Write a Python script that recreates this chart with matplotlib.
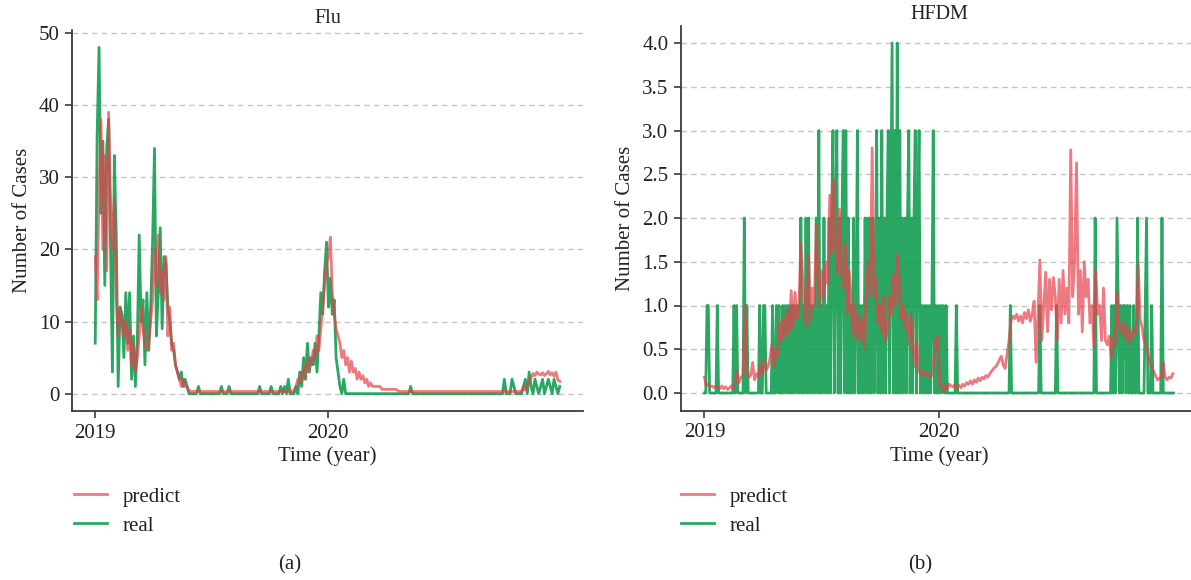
import numpy as np
import matplotlib
matplotlib.use("Agg")
import matplotlib.pyplot as plt
import matplotlib.dates as mdates
import matplotlib.ticker as mticker

plt.rcParams['font.family'] = ['Liberation Serif', 'DejaVu Serif']

# ---------------------------------------------------------------- data
# Flu: one value every 3 days starting 2019-01-01
flu_real = [
    7, 36, 48, 25, 35, 15, 34, 38, 20, 3,
    33, 22, 1, 12, 11, 5, 14, 7, 14, 2,
    8, 1, 7, 22, 10, 13, 4, 14, 6, 12,
    21, 34, 8, 14, 23, 9, 19, 18, 12, 10,
    7, 6, 4, 3, 2, 3, 1, 2, 1, 0,
    0, 0, 0, 0, 1, 0, 0, 0, 0, 0,
    0, 0, 0, 0, 0, 0, 1, 0, 0, 0,
    1, 0, 0, 0, 0, 0, 0, 0, 0, 0,
    0, 0, 0, 0, 0, 0, 1, 0, 0, 0,
    0, 0, 1, 0, 0, 0, 0, 1, 0, 1,
    0, 2, 0, 0, 0, 1, 0, 3, 1, 5,
    2, 7, 3, 5, 4, 7, 3, 8, 14, 11,
    17, 21, 12, 16, 11, 13, 5, 3, 1, 0,
    2, 0, 0, 0, 0, 0, 0, 0, 0, 0,
    0, 0, 0, 0, 0, 0, 0, 0, 0, 0,
    0, 0, 0, 0, 0, 0, 0, 0, 0, 0,
    0, 0, 0, 0, 0, 1, 0, 0, 0, 0,
    0, 0, 0, 0, 0, 0, 0, 0, 0, 0,
    0, 0, 0, 0, 0, 0, 0, 0, 0, 0,
    0, 0, 0, 0, 0, 0, 0, 0, 0, 0,
    0, 0, 0, 0, 0, 0, 0, 0, 0, 0,
    0, 0, 0, 0, 2, 0, 0, 0, 2, 1,
    0, 0, 0, 0, 1, 2, 0, 3, 1, 0,
    2, 1, 0, 1, 2, 0, 1, 2, 1, 0,
    2, 1, 0, 1,
]

flu_predict = [
    19, 13, 28, 38, 20, 33, 17, 39, 27, 20,
    27, 13, 8, 12, 10, 8, 10, 6, 9, 4,
    7, 3, 5, 8, 12, 9, 7, 6, 7, 10,
    13, 20, 15, 22, 14, 17, 13, 19, 8, 12,
    6, 7, 4, 3, 2, 1, 2, 1, 1, 0.5,
    0.3, 0.3, 0.3, 0.3, 0.3, 0.3, 0.3, 0.3, 0.3, 0.3,
    0.3, 0.3, 0.3, 0.3, 0.3, 0.3, 0.3, 0.3, 0.3, 0.3,
    0.3, 0.3, 0.3, 0.3, 0.3, 0.3, 0.3, 0.3, 0.3, 0.3,
    0.3, 0.3, 0.3, 0.3, 0.3, 0.3, 0.3, 0.3, 0.3, 0.3,
    0.3, 0.3, 0.3, 0.3, 0.3, 0.3, 0.3, 0.3, 0.3, 0.3,
    0.3, 0.3, 0.3, 0.3, 0.5, 1, 2, 1.5, 3, 2,
    4, 3, 5, 4, 6, 5, 8, 6, 9, 12,
    15, 18, 19, 21.7, 14, 11, 9, 8, 7, 5,
    6, 4, 5, 3, 4.5, 3, 3.5, 2, 3, 2,
    2.5, 1.5, 2, 1, 1.5, 1, 1, 1, 1, 1,
    0.6, 0.6, 0.6, 0.6, 0.6, 0.6, 0.6, 0.6, 0.5, 0.3,
    0.3, 0.3, 0.3, 0.3, 0.3, 0.3, 0.3, 0.3, 0.3, 0.3,
    0.3, 0.3, 0.3, 0.3, 0.3, 0.3, 0.3, 0.3, 0.3, 0.3,
    0.3, 0.3, 0.3, 0.3, 0.3, 0.3, 0.3, 0.3, 0.3, 0.3,
    0.3, 0.3, 0.3, 0.3, 0.3, 0.3, 0.3, 0.3, 0.3, 0.3,
    0.3, 0.3, 0.3, 0.3, 0.3, 0.3, 0.3, 0.3, 0.3, 0.3,
    0.3, 0.3, 0.3, 0.3, 0.3, 0.3, 0.3, 0.3, 0.3, 0.3,
    0.3, 0.3, 0.3, 0.3, 1, 0.5, 1.2, 1.8, 2.2, 2.8,
    2.5, 3.0, 2.7, 2.6, 2.9, 2.5, 2.8, 3.1, 2.6, 2.9,
    2.4, 3.0, 1.9, 1.7,
]

# HFDM observed counts: one digit per 2 days starting 2019-01-01
hfdm_real_digits = (
    "0011000000" "1000000000" "0001010000" "0201000000" "0001001100"
    "0001001010" "0101010101" "0101020102" "0201010203" "0102010202"
    "3023020230" "3020102013" "0101020202" "0201302030" "2023024030"
    "4030202023" "0202302301" "0101010130" "1010101010" "0000001000"
    "0000000000" "0000000000" "0000000000" "0000000010" "0000000000"
    "0000000000" "0100000000" "0000100000" "0000000000" "0000000000"
    "0000200000" "0000000101" "0210101101" "0100100200" "0001200010"
    "0000002000" "000000"
)
hfdm_real = [int(c) for c in hfdm_real_digits]

# HFDM prediction: one value every 3 days starting 2019-01-01
hfdm_predict = [
    0.18, 0.08, 0.1, 0.07, 0.08, 0.06, 0.08, 0.07, 0.05, 0.08,
    0.05, 0.07, 0.04, 0.06, 0.08, 0.05, 0.12, 0.25, 0.12, 0.18,
    0.2, 1.0, 0.25, 0.18, 0.2, 0.35, 0.15, 0.22, 0.18, 0.32,
    0.2, 0.38, 0.26, 0.3, 0.4, 0.55, 0.3, 0.5, 0.42, 0.8,
    0.6, 0.85, 0.65, 0.95, 0.7, 1.17, 0.75, 1.15, 0.85, 1.0,
    1.72, 1.3, 0.9, 0.75, 1.58, 0.8, 1.2, 1.0, 1.92, 1.3,
    1.0, 1.4, 1.1, 1.5, 1.25, 2.26, 1.6, 2.44, 1.7, 1.35,
    2.1, 1.5, 1.2, 1.7, 0.9, 1.4, 1.1, 0.65, 1.0, 0.6,
    0.9, 0.6, 0.85, 0.5, 1.2, 1.5, 1.1, 2.8, 1.1, 1.3,
    0.8, 1.0, 0.7, 1.1, 0.6, 0.75, 1.1, 0.9, 1.35, 1.0,
    1.58, 1.3, 0.85, 1.0, 0.75, 0.9, 0.55, 0.9, 0.6, 0.3,
    0.6, 0.28, 0.22, 0.2, 0.25, 0.2, 0.22, 0.18, 0.2, 0.4,
    0.6, 0.65, 0.1, 0.05, 0.02, 0.1, 0.05, 0.1, 0.08, 0.07,
    0.1, 0.05, 0.09, 0.06, 0.1, 0.08, 0.12, 0.1, 0.14, 0.1,
    0.15, 0.12, 0.17, 0.14, 0.18, 0.16, 0.2, 0.18, 0.22, 0.25,
    0.28, 0.3, 0.33, 0.38, 0.42, 0.32, 0.28, 0.45, 0.6, 0.82,
    0.88, 0.85, 0.9, 0.82, 0.88, 0.8, 0.92, 0.85, 0.95, 0.82,
    0.9, 1.05, 0.35, 0.9, 1.52, 0.6, 1.0, 1.38, 0.7, 1.3,
    0.95, 1.32, 1.1, 0.6, 1.3, 0.8, 1.4, 0.9, 1.2, 0.8,
    2.78, 1.1, 1.5, 2.63, 0.9, 1.4, 0.7, 1.5, 1.1, 1.3,
    0.8, 1.0, 0.53, 1.4, 0.9, 1.0, 0.6, 1.2, 0.6, 0.55,
    0.65, 0.4, 0.6, 0.55, 1.15, 0.8, 0.7, 0.8, 0.62, 0.78,
    0.55, 0.7, 0.62, 0.75, 0.7, 1.46, 0.85, 0.75, 0.6, 0.55,
    0.45, 0.35, 0.3, 0.25, 0.2, 0.15, 0.17, 0.18, 0.35, 0.18,
    0.15, 0.18, 0.17, 0.22,
]

year_ticks = ["2019", "2020"]
legend_labels = ["predict", "real"]
panel_titles = ["Flu", "HFDM"]
panel_captions = ["(a)", "(b)"]

# ---------------------------------------------------------------- helpers
START = np.datetime64("2019-01-01")


def day_axis(n, step):
    return START + np.arange(n) * np.timedelta64(step, "D")


RED = "#e8404a"
GREEN = "#0c9b4c"
SPINE = "#3a3a3a"
TEXT = "#222222"
FS = 15

W, H = 1191, 580
fig = plt.figure(figsize=(W / 100, H / 100), dpi=100)


def px_box(left, top, right, bottom):
    return [left / W, 1 - bottom / H, (right - left) / W, (bottom - top) / H]


ax_a = fig.add_axes(px_box(72, 30, 583, 411))
ax_b = fig.add_axes(px_box(681, 25.5, 1197, 410.5))

panels = [
    (ax_a, flu_real, 3, flu_predict, 3),
    (ax_b, hfdm_real, 2, hfdm_predict, 3),
]

for k, (ax, real, rstep, pred, pstep) in enumerate(panels):
    l_real, = ax.plot(day_axis(len(real), rstep), real, color=GREEN,
                      lw=2.0, alpha=0.88, label=legend_labels[1], zorder=2)
    l_pred, = ax.plot(day_axis(len(pred), pstep), pred, color=RED,
                      lw=2.0, alpha=0.7, label=legend_labels[0], zorder=3)

    ax.set_xticks([mdates.date2num(np.datetime64("2019-01-01")),
                   mdates.date2num(np.datetime64("2020-01-01"))])
    ax.set_xticklabels(year_ticks)

    for side in ("top", "right"):
        ax.spines[side].set_visible(False)
    for side in ("left", "bottom"):
        ax.spines[side].set_color(SPINE)
        ax.spines[side].set_linewidth(1.3)

    ax.yaxis.grid(True, linestyle=(0, (4, 3)), color="#c4c4c4", lw=1.0)
    ax.set_axisbelow(True)
    ax.tick_params(direction="out", length=5, width=1.2, color=SPINE,
                   labelsize=FS, pad=4, labelcolor=TEXT)

    ax.set_ylabel("Number of Cases", fontsize=FS, color=TEXT, labelpad=5)
    ax.set_xlabel("Time (year)", fontsize=FS, color=TEXT, labelpad=3)
    ax.set_title(panel_titles[k], fontsize=FS - 0.5, pad=5, color=TEXT)

    lx = 74 if k == 0 else 681
    fig.legend(handles=[l_pred, l_real], labels=legend_labels,
               loc="upper left", bbox_to_anchor=(lx / W, 1 - 487 / H),
               frameon=False, fontsize=FS, handlelength=1.6,
               handletextpad=0.75, labelspacing=0.45, borderpad=0,
               borderaxespad=0, labelcolor=TEXT)

    cx = 290 if k == 0 else 920
    fig.text(cx / W, 1 - 565 / H, panel_captions[k], ha="center",
             va="center", fontsize=FS, color=TEXT)

ax_a.yaxis.set_ticks([0, 10, 20, 30, 40, 50])
ax_b.yaxis.set_ticks([0, 0.5, 1.0, 1.5, 2.0, 2.5, 3.0, 3.5, 4.0])
ax_b.yaxis.set_major_formatter(mticker.FormatStrFormatter("%.1f"))

fig.savefig("out.png", dpi=100)
